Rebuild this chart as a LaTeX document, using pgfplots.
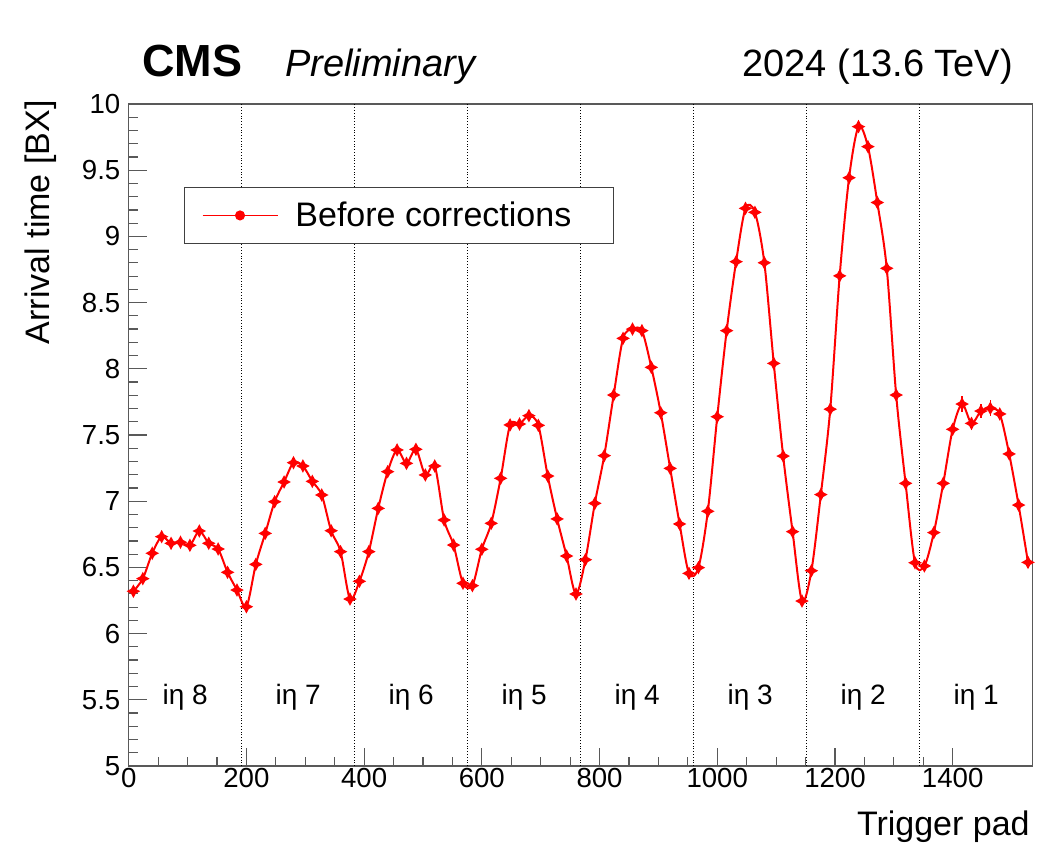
\documentclass[border=0pt]{standalone}
\usepackage{fontspec}
\setmainfont{Liberation Sans}
\usepackage{pgfplots}
\pgfplotsset{compat=1.18}
\pgfdeclareplotmark{star4}{%
  \pgfpathmoveto{\pgfqpoint{0pt}{\pgfplotmarksize}}%
  \pgfpathlineto{\pgfqpoint{0.35\pgfplotmarksize}{0.35\pgfplotmarksize}}%
  \pgfpathlineto{\pgfqpoint{\pgfplotmarksize}{0pt}}%
  \pgfpathlineto{\pgfqpoint{0.35\pgfplotmarksize}{-0.35\pgfplotmarksize}}%
  \pgfpathlineto{\pgfqpoint{0pt}{-\pgfplotmarksize}}%
  \pgfpathlineto{\pgfqpoint{-0.35\pgfplotmarksize}{-0.35\pgfplotmarksize}}%
  \pgfpathlineto{\pgfqpoint{-\pgfplotmarksize}{0pt}}%
  \pgfpathlineto{\pgfqpoint{-0.35\pgfplotmarksize}{0.35\pgfplotmarksize}}%
  \pgfpathclose
  \pgfusepathqfill}
\pgfplotstableread{
x y e
8 6.320 0.02
24 6.415 0.02
40 6.607 0.02
56 6.732 0.02
72 6.682 0.02
88 6.690 0.02
104 6.667 0.02
120 6.775 0.02
136 6.682 0.02
152 6.639 0.02
168 6.463 0.02
184 6.329 0.02
200 6.203 0.02
216 6.523 0.02
232 6.757 0.02
248 6.996 0.02
264 7.145 0.02
280 7.291 0.02
296 7.266 0.02
312 7.150 0.02
328 7.047 0.02
344 6.777 0.02
360 6.619 0.02
376 6.261 0.02
392 6.395 0.02
408 6.619 0.02
424 6.946 0.02
440 7.223 0.02
456 7.387 0.02
472 7.286 0.02
488 7.392 0.02
504 7.198 0.02
520 7.266 0.02
536 6.858 0.02
552 6.669 0.02
568 6.380 0.02
584 6.362 0.02
600 6.637 0.02
616 6.833 0.02
632 7.173 0.02
648 7.576 0.02
664 7.583 0.02
680 7.646 0.02
696 7.573 0.02
712 7.190 0.02
728 6.866 0.02
744 6.586 0.02
760 6.299 0.02
776 6.558 0.02
792 6.984 0.02
808 7.344 0.02
824 7.802 0.02
840 8.230 0.02
856 8.300 0.02
872 8.288 0.02
888 8.011 0.02
904 7.668 0.02
920 7.248 0.02
936 6.828 0.02
952 6.455 0.02
968 6.498 0.02
984 6.924 0.02
1000 7.638 0.02
1016 8.288 0.02
1032 8.809 0.02
1048 9.212 0.03
1064 9.182 0.03
1080 8.801 0.02
1096 8.041 0.02
1112 7.341 0.02
1128 6.770 0.02
1144 6.246 0.02
1160 6.475 0.02
1176 7.050 0.02
1192 7.695 0.02
1208 8.702 0.02
1224 9.443 0.02
1240 9.829 0.05
1256 9.678 0.03
1272 9.256 0.02
1288 8.759 0.02
1304 7.802 0.02
1320 7.135 0.02
1336 6.535 0.02
1352 6.511 0.02
1368 6.763 0.02
1384 7.135 0.02
1400 7.543 0.02
1416 7.734 0.06
1432 7.588 0.05
1448 7.681 0.05
1464 7.702 0.06
1480 7.659 0.04
1496 7.357 0.02
1512 6.971 0.02
1528 6.538 0.02
}\datatable
\begin{document}
\begin{tikzpicture}[x=1pt,y=1pt]
\useasboundingbox (-64.35,-40) rectangle (456.65,383);
\begin{axis}[
  at={(0,0)}, anchor=south west,
  scale only axis, width=452pt, height=331pt,
  xmin=0, xmax=1536, ymin=5, ymax=10,
  xtick={0,200,...,1400}, minor x tick num=3,
  ytick={5,5.5,...,10}, minor y tick num=4,
  tick align=inside, xtick pos=bottom, ytick pos=left,
  major tick length=9pt, minor tick length=4.5pt,
  axis line style={black!65, line width=0.7pt},
  every tick/.style={black!65, line width=0.6pt},
  /pgf/number format/assume math mode=true,
  /pgf/number format/set thousands separator={},
  yticklabel style={font=\fontsize{13.8}{16}\selectfont, inner sep=1pt, xshift=-3pt},
  xticklabel style={font=\fontsize{13.8}{16}\selectfont, inner sep=1pt},
  extra x ticks={192,384,576,768,960,1152,1344},
  extra x tick labels={},
  extra x tick style={grid=major, major tick length=0pt,
     major grid style={black, densely dotted, line width=0.6pt}},
  legend style={draw=black!75, line width=0.6pt, at={(axis cs:94,9.373)}, anchor=north west,
     inner xsep=8.5pt, inner ysep=7pt, font=\fontsize{17}{20}\selectfont,
     nodes={inner sep=0pt}},
  legend image code/.code={%
     \draw[color=red, draw=red, line width=0.9pt] (0pt,0pt) -- (37.5pt,0pt);
     \fill[color=red, fill=red] (18.75pt,0pt) circle (2pt);},
]
\addplot[red, line width=1pt, smooth, tension=0.5, mark=star4, mark size=3.4pt,
  mark options={solid},
  error bars/.cd, y dir=both, y explicit, error bar style={red, line width=0.7pt}, error mark=none]
  table[x=x, y=y, y error=e] {\datatable};
\addlegendentry{\hspace{8.5pt}Before corrections\rule{12.5pt}{0pt}}
\foreach \c/\l in {96/8, 288/7, 480/6, 672/5, 864/4, 1056/3, 1248/2, 1440/1}{
  \edef\tmp{\noexpand\node[font=\noexpand\fontsize{14}{16}\noexpand\selectfont] at (axis cs:\c,5.52) {iη \l};}\tmp
}
\end{axis}
\node[anchor=base west, font=\fontsize{22.5}{26}\selectfont\bfseries] at (3.15,344.5) {CMS};
\node[anchor=base west, font=\fontsize{19}{22}\selectfont\itshape] at (74.65,344.5) {Preliminary};
\node[anchor=base east, font=\fontsize{19}{22}\selectfont] at (445.65,344.5) {2024 (13.6 TeV)};
\node[anchor=base east, rotate=90, font=\fontsize{17}{20}\selectfont, inner sep=0pt] at (-39.35,333) {Arrival time [BX]};
\node[anchor=base east, font=\fontsize{17}{20}\selectfont, inner sep=0pt] at (450.65,-34.5) {Trigger pad};
\end{tikzpicture}
\end{document}
